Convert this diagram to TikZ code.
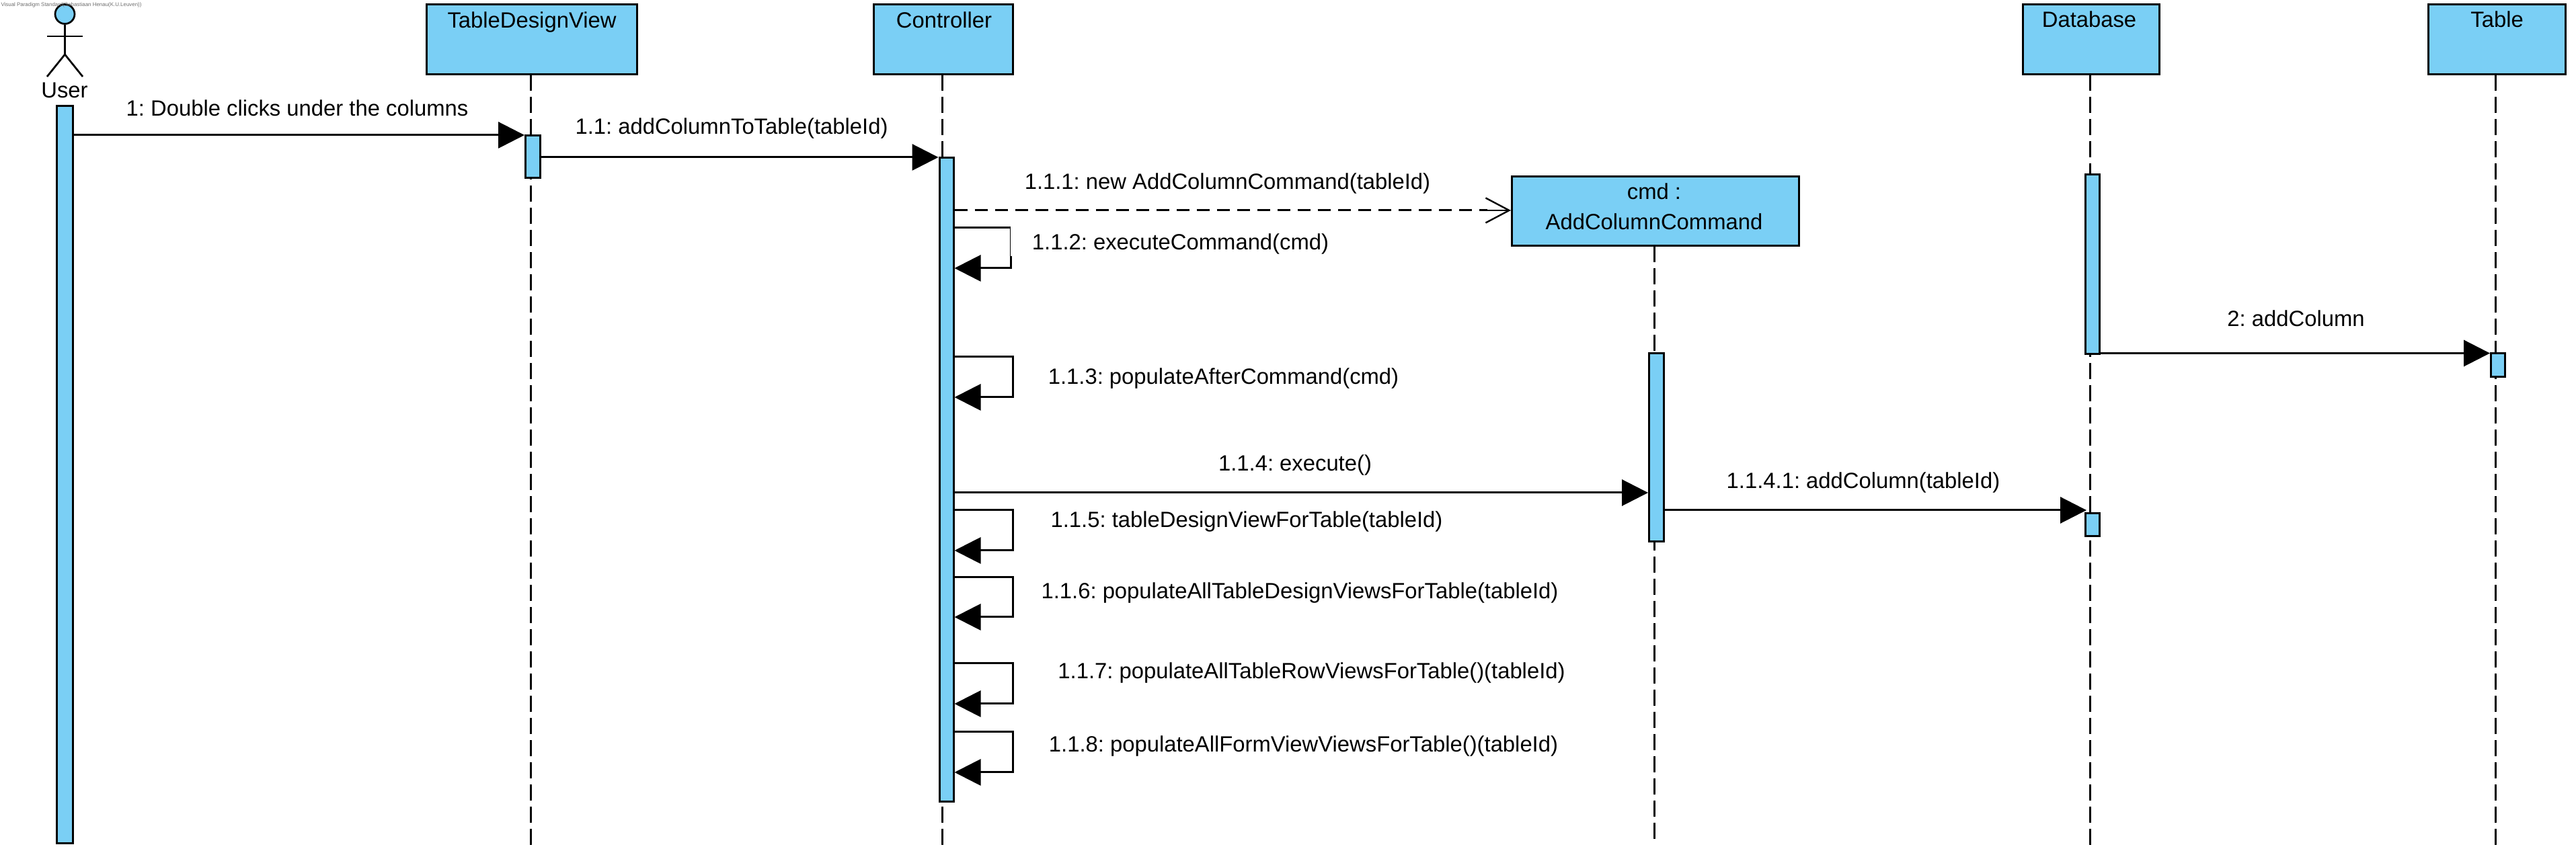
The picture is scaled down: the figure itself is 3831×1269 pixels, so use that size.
\documentclass[tikz,border=0pt]{standalone}
\usepackage{fontspec}
\setmainfont{Liberation Sans}
\usetikzlibrary{arrows.meta}
\frenchspacing
\definecolor{vpblue}{RGB}{122,207,245}
\definecolor{wmgray}{RGB}{110,110,110}
\tikzset{
  lbl/.style={anchor=base,inner sep=0pt,font=\fontsize{8.2}{10}\selectfont},
  wmark/.style={anchor=base,inner sep=0pt,text=wmgray,font=\fontsize{1.98}{2.4}\selectfont},
  box/.style={rectangle,draw=black,fill=vpblue,line width=.75pt,inner sep=0pt,minimum height=26pt},
  act/.style={rectangle,draw=black,fill=vpblue,line width=.75pt,inner sep=0pt},
  life/.style={line width=.75pt,dash pattern=on 6pt off 2.25pt,dash phase=.25pt},
  stick/.style={line width=.68pt},
  fig/.style={line width=.75pt},
  tip/.style={-{Triangle[length=9.75pt,width=9.75pt]}},
  msg/.style={line width=.75pt,tip},
  create/.style={line width=.75pt,dash pattern=on 4.75pt off 2.75pt},
  openhead/.style={line width=.6pt,-{Straight Barb[length=8.75pt,width=9.25pt]}}
}
\begin{document}
\begin{tikzpicture}[x=.25pt,y=-.25pt]
\useasboundingbox (0,0) rectangle (3831,1269);
% lifeline heads
\node[box,minimum width=313*.25pt] (tdv) at (791,59) {};
\node[box,minimum width=207*.25pt] (ctrl) at (1403,59) {};
\node[box,minimum width=427*.25pt,minimum height=103*.25pt] (cmd) at (2462,314) {};
\node[box,minimum width=203.5*.25pt] (db) at (3110,59) {};
\node[box,minimum width=204*.25pt] (tbl) at (3713.5,59) {};
\node[lbl] (tdvL) at (791,42) {TableDesignView};
\node[lbl] (ctrlL) at (1404,42) {Controller};
\node[lbl] (cmdLa) at (2460,297) {cmd :};
\node[lbl] (cmdLb) at (2460,342) {AddColumnCommand};
\node[lbl] (dbL) at (3107,41) {Database};
\node[lbl] (tblL) at (3713.5,41) {Table};
% lifelines
\coordinate (tdvEnd) at (789.5,1257);
\coordinate (ctrlEnd) at (1401.8,1257);
\coordinate (cmdEnd) at (2460,1248);
\coordinate (dbEnd) at (3108,1257);
\coordinate (tblEnd) at (3711.3,1257);
\draw[life] (tdvEnd |- tdv.south) -- (tdvEnd);
\draw[life] (ctrlEnd |- ctrl.south) -- (ctrlEnd);
\draw[life] (cmdEnd |- cmd.south) -- (cmdEnd);
\draw[life] (dbEnd |- db.south) -- (dbEnd);
\draw[life] (tblEnd |- tbl.south) -- (tblEnd);
% actor
\node[circle,draw=black,fill=vpblue,stick,inner sep=0pt,minimum size=29*.25pt] (head) at (96.5,21) {};
\coordinate (hip) at (96.5,81);
\coordinate (armL) at (70,54);
\coordinate (armR) at (123,54);
\coordinate (legL) at (70,114);
\coordinate (legR) at (123,114);
\draw[stick] (head.south) -- (hip);
\draw[stick] (armL) -- (armR);
\draw[stick] (legL) -- (hip) -- (legR);
\node[lbl] (userL) at (96,146) {User};
\node[wmark] (wm) at (106,10) {Visual Paradigm Standard(Sebastiaan Henau(K.U.Leuven))};
% activations
\node[act,minimum width=24*.25pt,minimum height=1097*.25pt] (uA) at (96.5,706) {};
\node[act,minimum width=22*.25pt,minimum height=63*.25pt] (tdvA) at (792.5,233) {};
\node[act,minimum width=21*.25pt,minimum height=958*.25pt] (ctrlA) at (1407.5,713.5) {};
\node[act,minimum width=22*.25pt,minimum height=280*.25pt] (cmdA) at (2463.5,665.5) {};
\node[act,minimum width=21.5*.25pt,minimum height=267.5*.25pt] (dbA) at (3111.75,393.25) {};
\node[act,minimum width=21*.25pt,minimum height=34*.25pt] (dbB) at (3112,780.5) {};
\node[act,minimum width=21*.25pt,minimum height=35*.25pt] (tblA) at (3715,543) {};
% messages
\draw[msg] (uA.east |- 0,201) -- (tdvA.west |- 0,201);
\node[lbl] (m1) at (442,173) {1: Double clicks under the columns};
\draw[msg] (tdvA.east |- 0,234) -- (ctrlA.west |- 0,234);
\node[lbl] (m11) at (1088,200) {1.1: addColumnToTable(tableId)};
\coordinate (cBack) at (2212,313);
\draw[create] (ctrlA.east |- 0,313) -- (cBack);
\draw[openhead] (cBack) -- (cmd.west |- 0,313);
\node[lbl] (m111) at (1825.5,282) {1.1.1: new AddColumnCommand(tableId)};
% 1.1.2: the upper part of its right side is a thin line
\coordinate (s2a) at (1502.5,339);
\coordinate (s2b) at (1502.5,381);
\coordinate (s2c) at (1503,399);
\draw[line width=.75pt] (ctrlA.east |- s2a) -- (s2a);
\draw[line width=.42pt] (s2a) -- (s2b);
\draw[msg] (s2c |- s2b) -- (s2c) -- (ctrlA.east |- s2c);
\node[lbl] (m112) at (1755.5,372) {1.1.2: executeCommand(cmd)};
\draw[msg] (ctrlA.east |- 0,531) -| (1506,591) -- (ctrlA.east |- 0,591);
\node[lbl] (m113) at (1819.5,572) {1.1.3: populateAfterCommand(cmd)};
\draw[msg] (ctrlA.east |- 0,733) -- (cmdA.west |- 0,733);
\node[lbl] (m114) at (1926,700.5) {1.1.4: execute()};
\draw[msg,shorten >=-.75pt] (cmdA.east |- 0,759) -- (dbB.west |- 0,759);
\node[lbl] (m1141) at (2771,727) {1.1.4.1: addColumn(tableId)};
\draw[msg] (dbA.east |- 0,525.5) -- (tblA.west |- 0,525.5);
\node[lbl] (m2) at (3414.5,486) {2: addColumn};
\draw[msg] (ctrlA.east |- 0,759) -| (1506,819) -- (ctrlA.east |- 0,819);
\node[lbl] (m115) at (1854,785) {1.1.5: tableDesignViewForTable(tableId)};
\draw[msg] (ctrlA.east |- 0,858.6) -| (1506,918) -- (ctrlA.east |- 0,918);
\node[lbl] (m116) at (1933,890.5) {1.1.6: populateAllTableDesignViewsForTable(tableId)};
\draw[msg] (ctrlA.east |- 0,986.6) -| (1506,1047) -- (ctrlA.east |- 0,1047);
\node[lbl] (m117) at (1950.5,1010) {1.1.7: populateAllTableRowViewsForTable()(tableId)};
\draw[msg] (ctrlA.east |- 0,1088.6) -| (1506,1149) -- (ctrlA.east |- 0,1149);
\node[lbl] (m118) at (1938.5,1119) {1.1.8: populateAllFormViewViewsForTable()(tableId)};
\end{tikzpicture}
\end{document}
